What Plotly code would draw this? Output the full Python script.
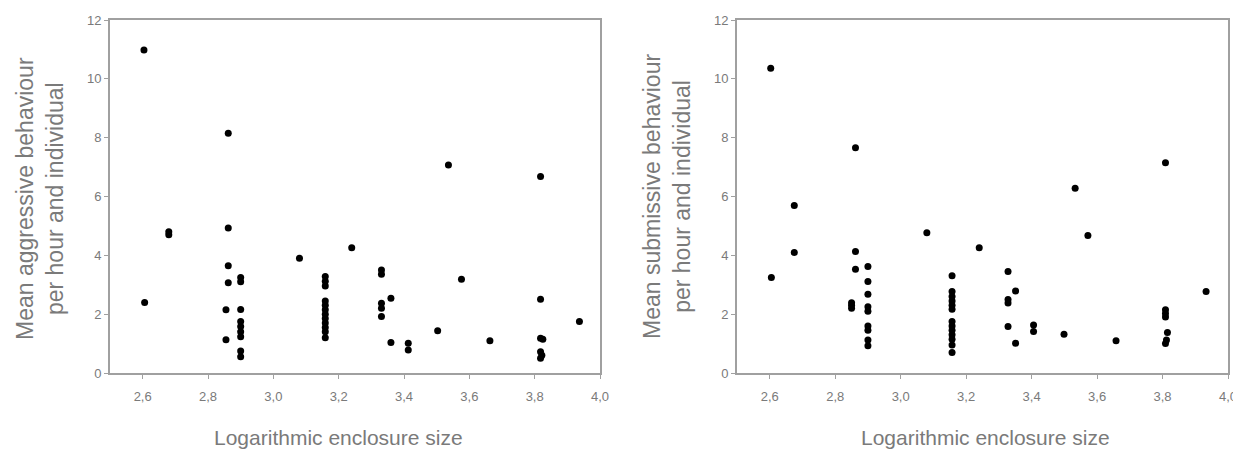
import plotly.graph_objects as go

# Left panel: aggressive behaviour
agg_x = [2.604, 2.606, 2.68, 2.68,
         2.862, 2.862, 2.862, 2.862, 2.855, 2.855,
         2.90, 2.90, 2.90, 2.90, 2.90, 2.90, 2.90, 2.90, 2.90,
         3.08,
         3.159, 3.159, 3.159, 3.159, 3.159, 3.159, 3.159, 3.159, 3.159, 3.159, 3.159, 3.159,
         3.24,
         3.331, 3.331, 3.331, 3.331, 3.331, 3.36, 3.36,
         3.413, 3.413,
         3.503, 3.536, 3.576, 3.663,
         3.818, 3.818, 3.818, 3.825, 3.818, 3.822, 3.818,
         3.937]
agg_y = [10.98, 2.40, 4.8, 4.7,
         8.15, 4.93, 3.65, 3.07, 2.15, 1.13,
         3.25, 3.1, 2.16, 1.75, 1.58, 1.40, 1.23, 0.75, 0.55,
         3.9,
         3.28, 3.12, 2.96, 2.45, 2.3, 2.15, 2.0, 1.85, 1.7, 1.55, 1.4, 1.2,
         4.26,
         3.5, 3.36, 2.37, 2.2, 1.92, 2.54, 1.04,
         1.01, 0.78,
         1.44, 7.07, 3.19, 1.10,
         6.68, 2.51, 1.18, 1.15, 0.72, 0.6, 0.5,
         1.75]

# Right panel: submissive behaviour
sub_x = [2.603, 2.605, 2.675, 2.675,
         2.862, 2.862, 2.862, 2.85, 2.85, 2.85,
         2.90, 2.90, 2.90, 2.90, 2.90, 2.90, 2.90, 2.90, 2.90,
         3.08, 3.24,
         3.157, 3.157, 3.157, 3.157, 3.157, 3.157, 3.157, 3.157, 3.157, 3.157, 3.157, 3.157, 3.157,
         3.328, 3.328, 3.328, 3.328, 3.351, 3.351,
         3.406, 3.406,
         3.499, 3.533, 3.572, 3.658,
         3.809, 3.809, 3.809, 3.809, 3.815, 3.812, 3.809,
         3.933]
sub_y = [10.36, 3.25, 5.69, 4.1,
         7.66, 4.13, 3.53, 2.39, 2.3, 2.2,
         3.62, 3.11, 2.68, 2.25, 2.1, 1.6, 1.45, 1.12, 0.93,
         4.77, 4.26,
         3.31, 2.77, 2.6, 2.45, 2.3, 2.17, 1.75, 1.6, 1.45, 1.3, 1.15, 0.95, 0.7,
         3.45, 2.5, 2.38, 1.58, 2.79, 1.01,
         1.63, 1.41,
         1.32, 6.28, 4.67, 1.10,
         7.15, 2.15, 2.02, 1.9, 1.38, 1.12, 1.0,
         2.77]

x_ticks = [2.6, 2.8, 3.0, 3.2, 3.4, 3.6, 3.8, 4.0]
y_ticks = [0, 2, 4, 6, 8, 10, 12]
x_title = "Logarithmic enclosure size"
y_title_left = "Mean aggressive behaviour<br>per hour and individual"
y_title_right = "Mean submissive behaviour<br>per hour and individual"

# page body has an 8px margin: figure occupies window pixels 8..1241, 8..450
OFF = 8
W, H = 1241 - OFF, 450 - OFF

def px(X):
    return (X - OFF) / W

def py(Y):
    return 1 - (Y - OFF) / H

axis_col = "#a0a0a0"
text_col = "#7a7a7a"
FONT = "Liberation Sans, Arial, sans-serif"

fig = go.Figure()
fig.add_trace(go.Scatter(x=agg_x, y=agg_y, mode="markers", xaxis="x", yaxis="y",
                         marker=dict(color="black", size=7), showlegend=False))
fig.add_trace(go.Scatter(x=sub_x, y=sub_y, mode="markers", xaxis="x2", yaxis="y2",
                         marker=dict(color="black", size=7), showlegend=False))

def xax(domain, anchor):
    return dict(domain=domain, anchor=anchor, range=[2.5, 4.0], tickvals=x_ticks,
                tickformat=".1f", showgrid=False, zeroline=False, showline=True,
                linecolor=axis_col, linewidth=2, mirror=True, ticks="outside",
                ticklen=4, tickcolor=axis_col, automargin=False, ticklabelstandoff=6,
                tickfont=dict(size=13, color=text_col, family=FONT))

def yax(anchor):
    return dict(domain=[py(373), py(20)], anchor=anchor, range=[0, 12],
                tickvals=y_ticks, showgrid=False, zeroline=False, showline=True,
                linecolor=axis_col, linewidth=2, mirror=True, ticks="outside",
                ticklen=4, tickcolor=axis_col, automargin=False,
                tickfont=dict(size=13, color=text_col, family=FONT))

xt_font = dict(size=21, color=text_col, family=FONT)
yt_font = dict(size=23, color=text_col, family=FONT)

fig.update_layout(
    width=W, height=H, autosize=False,
    margin=dict(l=0, r=0, t=0, b=0),
    paper_bgcolor="white", plot_bgcolor="white",
    separators=", ",
    xaxis=xax([px(110), px(600)], "y"),
    yaxis=yax("x"),
    xaxis2=xax([px(737), px(1228)], "y2"),
    yaxis2=yax("x2"),
    annotations=[
        dict(text=x_title, x=px(338), y=py(437), xref="paper", yref="paper",
             showarrow=False, font=xt_font, xanchor="center", yanchor="middle"),
        dict(text=x_title, x=px(985), y=py(437), xref="paper", yref="paper",
             showarrow=False, font=xt_font, xanchor="center", yanchor="middle"),
        dict(text=y_title_left, x=px(40), y=py(199), xref="paper", yref="paper",
             showarrow=False, font=yt_font, textangle=-90, xanchor="center", yanchor="middle"),
        dict(text=y_title_right, x=px(667), y=py(197), xref="paper", yref="paper",
             showarrow=False, font=yt_font, textangle=-90, xanchor="center", yanchor="middle"),
    ],
)

fig.write_html("out.html")
